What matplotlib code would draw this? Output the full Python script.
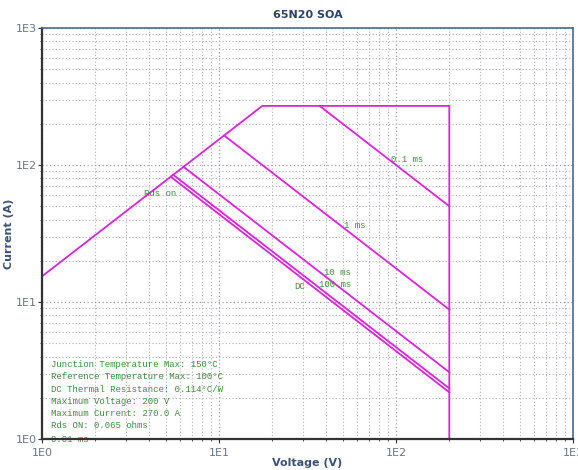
import math
import matplotlib
matplotlib.use("Agg")
import matplotlib.pyplot as plt
from matplotlib.ticker import LogLocator, FuncFormatter, NullFormatter

# outer limit: Rds on line, current limit, voltage limit (V, A)
limit_v = [1.0, 17.55, 200.0, 200.0]
limit_i = [15.4, 270.0, 270.0, 1.0]

# pulse lines, start and end points
pulse_names = ["0.1 ms", "1 ms", "10 ms", "100 ms", "DC"]
pulse_v = [[37.0, 200.0], [10.7, 200.0], [6.3, 200.0], [5.5, 200.0], [5.34, 200.0]]
pulse_i = [[270.0, 50.0], [164.0, 8.8], [97.0, 3.07], [85.0, 2.34], [82.0, 2.19]]
label_v = [94.0, 51.0, 39.3, 36.7, 26.6]
label_i = [110.0, 36.0, 16.4, 13.5, 12.9]

info_lines = [
    "Junction Temperature Max: 150\u00b0C",
    "Reference Temperature Max: 100\u00b0C",
    "DC Thermal Resistance: 0.114\u00b0C/W",
    "Maximum Voltage: 200 V",
    "Maximum Current: 270.0 A",
    "Rds ON: 0.065 ohms",
]

magenta = "#dd22dd"
green = "#3d8c3d"
mono = "Liberation Mono"

fig = plt.figure(figsize=(5.78, 4.70), dpi=100)
ax = fig.add_axes([0.0727, 0.066, 0.9187, 0.8744])
ax.set_xscale("log")
ax.set_yscale("log")
ax.set_xlim(1, 1000)
ax.set_ylim(1, 1000)

ax.plot(limit_v, limit_i, color=magenta, lw=1.3)
for v, i in zip(pulse_v, pulse_i):
    ax.plot(v, i, color=magenta, lw=1.3)

for name, x, y in zip(pulse_names, label_v, label_i):
    ax.text(x, y, name, color=green, family=mono, fontsize=6.5, va="center")
ax.text(3.78, 61.7, "Rds on", color=green, family=mono, fontsize=6.5, va="center")
ax.text(1.12, 0.985, "0.01 ms", color=green, family=mono, fontsize=6.5,
        va="center", clip_on=False, zorder=1)

for k, line in enumerate(info_lines):
    ax.text(0.0165, 0.181 - k * 0.0297, line, transform=ax.transAxes,
            color=green, family=mono, fontsize=6.5, va="center")

ax.xaxis.set_major_locator(LogLocator(base=10))
ax.yaxis.set_major_locator(LogLocator(base=10))
ax.xaxis.set_minor_locator(LogLocator(base=10, subs=range(2, 10)))
ax.yaxis.set_minor_locator(LogLocator(base=10, subs=range(2, 10)))
fmt = FuncFormatter(lambda val, pos: "1E%d" % round(math.log10(val)))
ax.xaxis.set_major_formatter(fmt)
ax.yaxis.set_major_formatter(fmt)
ax.xaxis.set_minor_formatter(NullFormatter())
ax.yaxis.set_minor_formatter(NullFormatter())

ax.grid(True, which="major", color="#9a9aa8", linestyle=(0, (1, 2)), lw=0.9)
ax.grid(True, which="minor", color="#b0b0bc", linestyle=(0, (1, 2)), lw=0.8)
ax.tick_params(which="both", direction="out", colors="#333333", labelcolor="#6a7686",
               labelsize=8)
ax.tick_params(which="major", length=3)
ax.tick_params(which="minor", length=1.5)
ax.tick_params(axis="y", pad=1)

for side in ["left", "bottom"]:
    ax.spines[side].set_color("#333333")
    ax.spines[side].set_linewidth(1.6)
for side in ["top", "right"]:
    ax.spines[side].set_color("#4a6a95")
    ax.spines[side].set_linewidth(1.2)

ax.set_xlabel("Voltage (V)", color="#3c5274", fontsize=8, fontweight="bold", labelpad=0)
ax.set_ylabel("Current (A)", color="#3c5274", fontsize=8, fontweight="bold", labelpad=1)
ax.set_title("65N20 SOA", color="#2c4466", fontsize=8, fontweight="bold", pad=7)

fig.savefig("out.png", dpi=100)
